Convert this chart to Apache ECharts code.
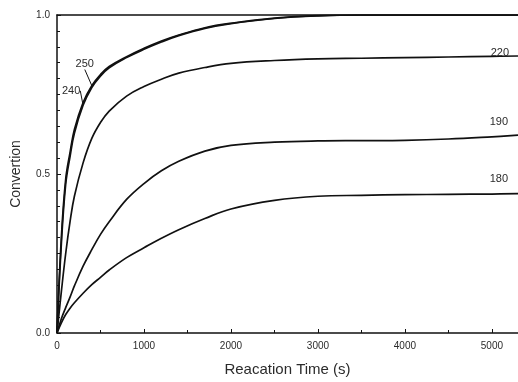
<!DOCTYPE html>
<html>
<head>
<meta charset="utf-8">
<script src="https://cdn.jsdelivr.net/npm/echarts@6/dist/echarts.min.js"></script>
<style>
  html, body { margin: 0; padding: 0; background: #fff; }
  #chart { width: 518px; height: 382px; }
</style>
</head>
<body>
<div id="chart"></div>
<script>
// reaction time (s), shared by every curve
const times = [0, 50, 100, 150, 200, 300, 400, 500, 600, 800, 1000, 1200, 1400, 1700, 2000, 2500, 3000, 3500, 4000, 4500, 5000, 5300];

// conversion, one list per temperature
const conv250 = [0, 0.3, 0.484, 0.568, 0.64, 0.725, 0.778, 0.813, 0.838, 0.869, 0.895, 0.918, 0.937, 0.96, 0.974, 0.99, 0.998, 1.0, 1.0, 1.0, 1.0, 1.0];
const conv240 = [0, 0.28, 0.468, 0.555, 0.628, 0.716, 0.772, 0.808, 0.834, 0.866, 0.892, 0.915, 0.935, 0.958, 0.973, 0.989, 0.997, 1.0, 1.0, 1.0, 1.0, 1.0];
const conv220 = [0, 0.13, 0.25, 0.35, 0.43, 0.535, 0.612, 0.662, 0.698, 0.745, 0.775, 0.798, 0.817, 0.835, 0.848, 0.857, 0.862, 0.864, 0.866, 0.868, 0.87, 0.871];
const conv190 = [0, 0.045, 0.08, 0.113, 0.148, 0.21, 0.262, 0.31, 0.35, 0.42, 0.47, 0.51, 0.54, 0.572, 0.59, 0.6, 0.604, 0.605, 0.606, 0.61, 0.617, 0.622];
const conv180 = [0, 0.032, 0.058, 0.078, 0.095, 0.125, 0.152, 0.175, 0.198, 0.237, 0.268, 0.298, 0.325, 0.36, 0.39, 0.417, 0.43, 0.433, 0.435, 0.436, 0.437, 0.438];

const seriesNames = ["250", "240", "220", "190", "180"];
const seriesValues = [conv250, conv240, conv220, conv190, conv180];
// time at which each curve carries its label
const labelTimes = [400, 300, 5000, 5000, 5000];

const xTicks = [0, 1000, 2000, 3000, 4000, 5000];
const yTicks = ["0.0", "0.5", "1.0"];

const INK = "#111";
const TEXT = "#2b2b2b";
const FONT = "Liberation Sans, Arial, sans-serif";

// label placement per curve (style only)
const labelStyle = {
  "250": { distance: 0, layout: { dx: -7, dy: -16 }, guide: true },
  "240": { distance: 0, layout: { dx: -12, dy: -9 }, guide: true },
  "220": { distance: 1, offset: [8, 3] },
  "190": { distance: 9, offset: [7, 0] },
  "180": { distance: 10, offset: [7, 0] },
};

function buildSeries(name, values, labelTime) {
  const style = labelStyle[name];
  const labelIndex = times.indexOf(labelTime);
  const data = times.map((t, i) => {
    if (i !== labelIndex) {
      return [t, values[i]];
    }
    return {
      value: [t, values[i]],
      symbol: "circle",
      symbolSize: 0.1,
      itemStyle: { color: "rgba(0,0,0,0)" },
      label: {
        show: true,
        formatter: name,
        position: "top",
        distance: style.distance,
        offset: style.offset || [0, 0],
        color: TEXT,
        fontSize: 11,
        fontFamily: FONT,
      },
    };
  });

  const s = {
    name: name,
    type: "line",
    smooth: 0.4,
    symbol: "none",
    showSymbol: true,
    showAllSymbol: true,
    silent: true,
    lineStyle: { color: INK, width: 1.7 },
    data: data,
  };

  if (style.guide) {
    s.labelLine = {
      show: true,
      length2: 0,
      lineStyle: { color: INK, width: 1 },
    };
    s.labelLayout = (params) =>
      params.dataIndex === labelIndex ? style.layout : {};
  }
  return s;
}

const chart = echarts.init(document.getElementById("chart"), null, { renderer: "canvas" });

chart.setOption({
  animation: false,
  backgroundColor: "#fff",
  grid: { left: 57, right: 0, top: 15, bottom: 48 },
  xAxis: [
    {
      type: "value",
      min: 0,
      max: 5300,
      interval: 1000,
      name: "Reacation Time (s)",
      nameLocation: "middle",
      nameGap: 29,
      nameTextStyle: { color: TEXT, fontSize: 15, fontFamily: FONT },
      axisLine: { show: true, lineStyle: { color: INK, width: 1.5 } },
      axisTick: { show: true, inside: true, length: 4, lineStyle: { color: INK } },
      minorTick: { show: true, splitNumber: 2, length: 3, lineStyle: { color: INK } },
      splitLine: { show: false },
      axisLabel: {
        color: TEXT,
        fontSize: 10,
        fontFamily: FONT,
        margin: 8,
        showMaxLabel: false,
        formatter: (v) => (xTicks.includes(v) ? String(v) : ""),
      },
    },
    {
      type: "value",
      position: "top",
      min: 0,
      max: 5300,
      axisLine: { show: true, lineStyle: { color: INK, width: 1.5 } },
      axisTick: { show: false },
      axisLabel: { show: false },
      splitLine: { show: false },
    },
  ],
  yAxis: {
    type: "value",
    min: 0,
    max: 1,
    interval: 0.5,
    name: "Convertion",
    nameLocation: "middle",
    nameGap: 34,
    nameTextStyle: { color: TEXT, fontSize: 14, fontFamily: FONT },
    axisLine: { show: true, lineStyle: { color: INK, width: 1.5 } },
    axisTick: { show: true, inside: true, length: 4, lineStyle: { color: INK } },
    minorTick: { show: true, splitNumber: 10, length: 3, lineStyle: { color: INK } },
    splitLine: { show: false },
    axisLabel: {
      color: TEXT,
      fontSize: 10,
      fontFamily: FONT,
      margin: 7,
      formatter: (v) => yTicks[Math.round(v * 2)] || "",
    },
  },
  series: seriesNames.map((name, i) => buildSeries(name, seriesValues[i], labelTimes[i])),
});
</script>
</body>
</html>
